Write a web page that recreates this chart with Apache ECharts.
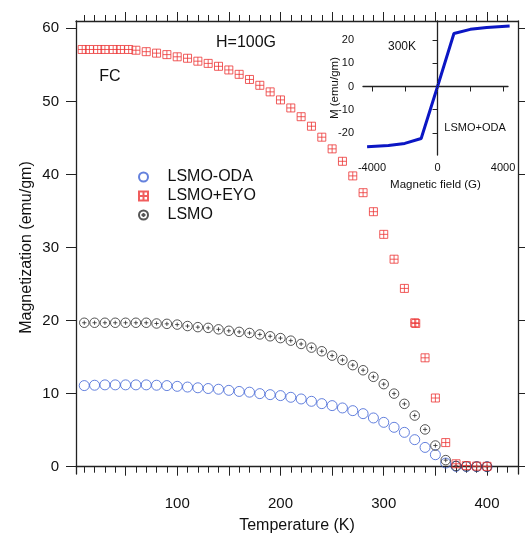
<!DOCTYPE html>
<html>
<head>
<meta charset="utf-8">
<script src="https://cdn.jsdelivr.net/npm/echarts@6/dist/echarts.min.js"></script>
<style>
  html, body { margin: 0; padding: 0; background: #fff; }
  #chart { width: 525px; height: 533px; pointer-events: none; }
</style>
</head>
<body>
<div id="chart"></div>
<script>
// temperature sweeps (K)
var tempODA = [10, 20, 30, 40, 50, 60, 70, 80, 90, 100, 110, 120, 130, 140, 150, 160, 170, 180, 190, 200,
  210, 220, 230, 240, 250, 260, 270, 280, 290, 300, 310, 320, 330, 340, 350, 360, 370, 380, 390, 400];
var magODA = [11.1, 11.15, 11.2, 11.2, 11.2, 11.2, 11.2, 11.15, 11.1, 11.0, 10.9, 10.8, 10.7, 10.6, 10.45, 10.3, 10.2, 10.0, 9.86, 9.73,
  9.5, 9.27, 8.95, 8.63, 8.36, 8.04, 7.67, 7.26, 6.67, 6.07, 5.39, 4.7, 3.7, 2.64, 1.64, 0.5, 0.05, 0.02, 0.01, 0];

var tempEYO = [8, 15, 23, 30, 38, 45, 53, 60, 70, 80, 90, 100, 110, 120, 130, 140, 150, 160, 170, 180, 190, 200,
  210, 220, 230, 240, 250, 260, 270, 280, 290, 300, 310, 320, 330, 331, 340, 350, 360, 370, 380, 390, 400];
var magEYO = [57.1, 57.1, 57.1, 57.1, 57.1, 57.1, 57.1, 57.0, 56.8, 56.6, 56.4, 56.1, 55.9, 55.5, 55.2, 54.8, 54.3, 53.7, 53.0, 52.2, 51.3, 50.2,
  49.1, 47.9, 46.6, 45.1, 43.5, 41.8, 39.8, 37.5, 34.9, 31.8, 28.4, 24.4, 19.7, 19.6, 14.9, 9.4, 3.3, 0.4, 0.15, 0.08, 0.05];

var tempLSMO = tempODA;
var magLSMO = [19.7, 19.7, 19.7, 19.7, 19.7, 19.7, 19.7, 19.6, 19.55, 19.45, 19.25, 19.1, 19.0, 18.8, 18.6, 18.45, 18.3, 18.1, 17.85, 17.6,
  17.25, 16.8, 16.3, 15.8, 15.2, 14.6, 13.9, 13.2, 12.3, 11.3, 10.0, 8.6, 7.0, 5.1, 2.9, 0.9, 0.1, 0.05, 0.02, 0];

// inset: M-H loop at 300K
var field = [-4300, -3000, -2000, -1000, 0, 1000, 2000, 3000, 4400];
var magField = [-25.9, -25.4, -24.5, -22.4, 0, 22.8, 24.6, 25.4, 26.0];

// ticks
var tempLabels = [100, 200, 300, 400];
var tempMajor = [50, 100, 150, 200, 250, 300, 350, 400];
var tempMinor = [];
for (var t = 10; t <= 420; t += 10) { if (t % 50 !== 0) tempMinor.push(t); }
var magTicks = [0, 10, 20, 30, 40, 50, 60];
var fieldTicks = [-4000, -2000, 0, 2000, 4000];
var fieldLabels = [-4000, 0, 4000];
var insetTicks = [-20, -10, 0, 10, 20];

function pairs(xs, ys) {
  return xs.map(function (x, i) { return [x, ys[i]]; });
}

var FONT = 'Liberation Sans, Arial, sans-serif';
var AXIS = { lineStyle: { color: '#222', width: 1.3 } };

// hollow markers
function marker(name, xs, ys, symbol, size, color, z) {
  return {
    name: name, type: 'scatter', xAxisIndex: 0, yAxisIndex: 0, z: z,
    silent: true,
    emphasis: { disabled: true },
    data: pairs(xs, ys),
    symbol: symbol, symbolSize: size,
    color: color,
    itemStyle: { color: 'rgba(0,0,0,0)', borderColor: color, borderWidth: 1 }
  };
}

var chart = echarts.init(document.getElementById('chart'));

var option = {
  animation: false,
  textStyle: { fontFamily: FONT },
  grid: [
    { left: 76, right: 7, top: 21, bottom: 59, outerBoundsMode: 'none', containLabel: false },
    { left: 363, right: 17, top: 21, bottom: 378, outerBoundsMode: 'none', containLabel: false }
  ],
  legend: {
    orient: 'vertical',
    left: 138, top: 169,
    padding: 0,
    itemGap: 3,
    itemWidth: 38, itemHeight: 9,
    symbolKeepAspect: true,
    selectedMode: false,
    textStyle: { fontSize: 16, color: '#111', fontFamily: FONT },
    data: ['LSMO-ODA', 'LSMO+EYO', 'LSMO']
  },
  xAxis: [
    {
      gridIndex: 0, type: 'value', position: 'bottom', min: 2, max: 430,
      axisLine: AXIS, splitLine: { show: false },
      axisTick: { customValues: tempMajor, length: 9, lineStyle: { color: '#222' } },
      axisLabel: { customValues: tempLabels, fontSize: 15, color: '#111', margin: 22 },
      name: 'Temperature (K)', nameLocation: 'middle', nameGap: 44, nameMoveOverlap: false,
      nameTextStyle: { fontSize: 16, color: '#111' }
    },
    {
      gridIndex: 0, type: 'value', position: 'bottom', min: 2, max: 430,
      axisLine: { show: false }, splitLine: { show: false },
      axisTick: { customValues: tempMinor, length: 6, lineStyle: { color: '#222' } },
      axisLabel: { show: false }
    },
    {
      gridIndex: 0, type: 'value', position: 'top', min: 2, max: 430,
      axisLine: AXIS, splitLine: { show: false },
      axisTick: { customValues: tempMajor, length: 9, lineStyle: { color: '#222' } },
      axisLabel: { show: false }
    },
    {
      gridIndex: 0, type: 'value', position: 'top', min: 2, max: 430,
      axisLine: { show: false }, splitLine: { show: false },
      axisTick: { customValues: tempMinor, length: 6, lineStyle: { color: '#222' } },
      axisLabel: { show: false }
    },
    {
      gridIndex: 1, type: 'value', position: 'bottom', min: -4550, max: 4300,
      axisLine: AXIS, splitLine: { show: false },
      axisTick: { customValues: fieldTicks, length: 5, lineStyle: { color: '#222' } },
      axisLabel: { customValues: fieldLabels, fontSize: 11, color: '#111', margin: 7,
        formatter: function (v) { return String(v); } },
      name: 'Magnetic field (G)', nameLocation: 'middle', nameGap: 24, nameMoveOverlap: false,
      nameTextStyle: { fontSize: 11.5, color: '#111' }
    }
  ],
  yAxis: [
    {
      gridIndex: 0, type: 'value', position: 'left', min: -1, max: 61,
      axisLine: AXIS, splitLine: { show: false },
      axisTick: { customValues: magTicks, length: 10, lineStyle: { color: '#222' } },
      axisLabel: { customValues: magTicks, fontSize: 15, color: '#111', margin: 17 },
      name: 'Magnetization (emu/gm)', nameLocation: 'middle', nameGap: 41, nameMoveOverlap: false,
      nameTextStyle: { fontSize: 16, color: '#111' }
    },
    {
      gridIndex: 0, type: 'value', position: 'right', min: -1, max: 61,
      axisLine: AXIS, splitLine: { show: false },
      axisTick: { customValues: magTicks, length: 8, lineStyle: { color: '#222' } },
      axisLabel: { show: false }
    },
    {
      gridIndex: 1, type: 'value', position: 'left', min: -29.5, max: 28.2,
      axisLine: AXIS, splitLine: { show: false },
      axisTick: { customValues: insetTicks, length: 5, lineStyle: { color: '#222' } },
      axisLabel: { customValues: insetTicks, fontSize: 11, color: '#111', margin: 9 },
      name: 'M (emu/gm)', nameLocation: 'middle', nameGap: 22, nameMoveOverlap: false,
      nameTextStyle: { fontSize: 11.5, color: '#111' }
    }
  ],
  series: [
    marker('LSMO-ODA', tempODA, magODA, 'circle', 10, '#3d62d4', 2),
    marker('LSMO', tempLSMO, magLSMO, 'path://M0,5A5,5,0,1,1,10,5A5,5,0,1,1,0,5Z M5,2.8L5,7.2 M2.8,5L7.2,5', 9.5, '#2a2a2a', 2),
    marker('LSMO+EYO', tempEYO, magEYO, 'path://M0,0L10,0L10,10L0,10Z M5,0L5,10 M0,5L10,5', 8, '#ec3434', 3),
    {
      name: 'M-H 300K', type: 'line', xAxisIndex: 4, yAxisIndex: 2, silent: true,
      emphasis: { disabled: true },
      data: pairs(field, magField),
      showSymbol: false, symbol: 'none',
      lineStyle: { color: '#0b16c4', width: 3 },
      markLine: {
        silent: true, symbol: 'none', label: { show: false },
        lineStyle: { color: '#222', type: 'dotted', width: 1 },
        data: [{ xAxis: 0 }, { yAxis: 0 }]
      }
    }
  ],
  graphic: [
    { type: 'text', x: 246, y: 43, style: { text: 'H=100G', font: '16px ' + FONT, fill: '#111', align: 'center', verticalAlign: 'middle' } },
    { type: 'text', x: 110, y: 77, style: { text: 'FC', font: '16px ' + FONT, fill: '#111', align: 'center', verticalAlign: 'middle' } },
    { type: 'text', x: 402, y: 47, style: { text: '300K', font: '12px ' + FONT, fill: '#111', align: 'center', verticalAlign: 'middle' } },
    { type: 'text', x: 475, y: 128, style: { text: 'LSMO+ODA', font: '11px ' + FONT, fill: '#111', align: 'center', verticalAlign: 'middle' } }
  ]
};

chart.setOption(option);
</script>
</body>
</html>
